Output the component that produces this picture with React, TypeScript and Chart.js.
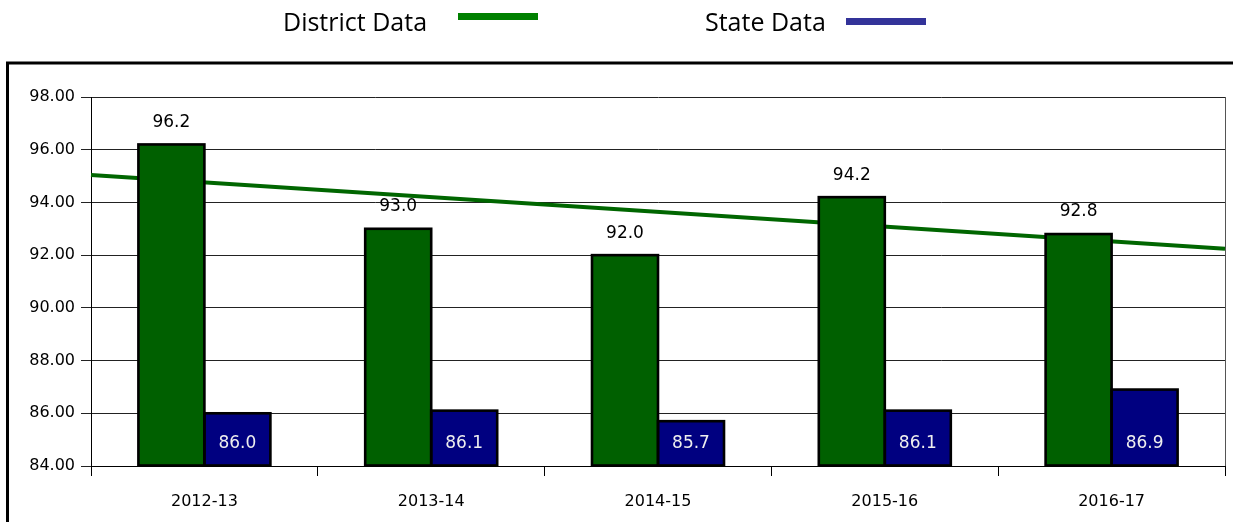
import React, { useEffect, useRef } from "react";
import { Chart, registerables } from "chart.js";

Chart.register(...registerables);

const categories = ["2012-13", "2013-14", "2014-15", "2015-16", "2016-17"];
const districtValues = [96.2, 93.0, 92.0, 94.2, 92.8];
const stateValues = [86.0, 86.1, 85.7, 86.1, 86.9];
const seriesNames = ["District Data", "State Data"];
const yMin = 84;
const yMax = 98;
const yStep = 2;

// least-squares trend of the district series, evaluated at category index t
function trendAt(values: number[], t: number): number {
  const n = values.length;
  const mx = (n - 1) / 2;
  const my = values.reduce((a, b) => a + b, 0) / n;
  let sxy = 0;
  let sxx = 0;
  values.forEach((v, i) => {
    sxy += (i - mx) * (v - my);
    sxx += (i - mx) * (i - mx);
  });
  const slope = sxy / sxx;
  return my + slope * (t - mx);
}

const FONT = '"DejaVu Sans", sans-serif';
const LEGEND_FONT = '"Open Sans", sans-serif';

const framePlugin = {
  id: "frameAndLegend",
  beforeDraw(chart: any) {
    const ctx = chart.ctx;
    ctx.save();
    ctx.fillStyle = "#fff";
    ctx.fillRect(0, 0, chart.width, chart.height);
    ctx.strokeStyle = "#000";
    ctx.lineWidth = 3;
    ctx.strokeRect(7.5, 63, chart.width + 20, chart.height + 20);
    ctx.restore();
  },
  beforeDatasetsDraw(chart: any) {
    const { ctx, chartArea, scales } = chart;
    ctx.save();
    // right border of plot area
    ctx.strokeStyle = "#555";
    ctx.lineWidth = 1;
    ctx.beginPath();
    ctx.moveTo(chartArea.right + 0.5, chartArea.top);
    ctx.lineTo(chartArea.right + 0.5, chartArea.bottom);
    ctx.stroke();
    // linear trend of the district series, across the full plot width (behind bars)
    const x = scales.x;
    const y = scales.y;
    const last = categories.length - 1;
    const tL = -0.5;
    const tR = last + 0.5;
    const step = x.getPixelForValue(1) - x.getPixelForValue(0);
    const pxL = x.getPixelForValue(0) + (tL - 0) * step;
    const pxR = x.getPixelForValue(last) + (tR - last) * step;
    ctx.strokeStyle = "#006600";
    ctx.lineWidth = 4;
    ctx.beginPath();
    ctx.moveTo(pxL, y.getPixelForValue(trendAt(districtValues, tL)));
    ctx.lineTo(pxR, y.getPixelForValue(trendAt(districtValues, tR)));
    ctx.stroke();
    ctx.restore();
  },
  afterDraw(chart: any) {
    const ctx = chart.ctx;
    ctx.save();
    ctx.font = `25px ${LEGEND_FONT}`;
    ctx.fillStyle = "#000";
    ctx.textBaseline = "alphabetic";
    ctx.textAlign = "left";
    ctx.fillText(seriesNames[0], 283, 31);
    ctx.fillStyle = "#008000";
    ctx.fillRect(458, 13, 80, 7);
    ctx.fillStyle = "#000";
    ctx.fillText(seriesNames[1], 705, 31);
    ctx.fillStyle = "#333399";
    ctx.fillRect(846, 18, 80, 7);
    ctx.restore();
  },
};

const labelPlugin = {
  id: "barLabels",
  afterDatasetsDraw(chart: any) {
    const ctx = chart.ctx;
    const bottom = chart.chartArea.bottom;
    ctx.save();
    // crisp black outlines around every bar
    ctx.strokeStyle = "#000";
    ctx.lineWidth = 2.6;
    ctx.lineJoin = "miter";
    [0, 1].forEach((di) => {
      chart.getDatasetMeta(di).data.forEach((bar: any) => {
        const b = Math.min(bar.base, bottom);
        ctx.strokeRect(bar.x - bar.width / 2, bar.y, bar.width, b - bar.y);
      });
    });
    ctx.font = `17px ${FONT}`;
    ctx.textAlign = "center";
    ctx.textBaseline = "middle";
    const m0 = chart.getDatasetMeta(0);
    m0.data.forEach((bar: any, i: number) => {
      ctx.fillStyle = "#000";
      ctx.fillText(districtValues[i].toFixed(1), bar.x, bar.y - 22);
    });
    const m1 = chart.getDatasetMeta(1);
    m1.data.forEach((bar: any, i: number) => {
      ctx.fillStyle = "#eeeeee";
      ctx.fillText(stateValues[i].toFixed(1), bar.x, Math.min(bar.base, bottom) - 22);
    });
    ctx.restore();
  },
};

export default function App() {
  const ref = useRef<HTMLCanvasElement | null>(null);

  useEffect(() => {
    if (!ref.current) return;
    const chart = new Chart(ref.current, {
      type: "bar",
      data: {
        labels: categories,
        datasets: [
          {
            label: seriesNames[0],
            data: districtValues,
            backgroundColor: "#006000",
            borderWidth: 0,
          },
          {
            label: seriesNames[1],
            data: stateValues,
            backgroundColor: "#000080",
            borderWidth: 0,
          },
        ],
      },
      options: {
        animation: false,
        responsive: false,
        maintainAspectRatio: false,
        layout: { padding: { top: 97, right: 8, left: 0, bottom: 0 } },
        datasets: {
          bar: { barPercentage: 1, categoryPercentage: 0.582, base: yMin, inflateAmount: 0 },
        },
        plugins: {
          legend: { display: false },
          tooltip: { enabled: false },
          title: { display: false },
        },
        scales: {
          x: {
            type: "category",
            offset: true,
            grid: {
              offset: true,
              drawOnChartArea: false,
              drawTicks: true,
              tickLength: 10,
              color: "#000",
            },
            border: { color: "#000", width: 1 },
            ticks: {
              color: "#000",
              font: { family: FONT, size: 16 },
              padding: 16,
              maxRotation: 0,
            },
            afterFit: (s: any) => {
              s.height = 56;
            },
          },
          y: {
            min: yMin,
            max: yMax,
            ticks: {
              stepSize: yStep,
              color: "#000",
              font: { family: FONT, size: 16 },
              padding: 6,
              callback: (v: any) => Number(v).toFixed(2),
            },
            grid: { color: "#222", tickLength: 10, drawTicks: true },
            border: { color: "#000", width: 1 },
            afterFit: (s: any) => {
              s.width = 91;
            },
          },
        },
      } as any,
      plugins: [framePlugin, labelPlugin],
    });
    return () => chart.destroy();
  }, []);

  return (
    <div style={{ position: "absolute", left: 0, top: 0, width: 1233, height: 522, background: "#fff" }}>
      <canvas ref={ref} width={1233} height={522} style={{ display: "block", width: 1233, height: 522 }} />
    </div>
  );
}
